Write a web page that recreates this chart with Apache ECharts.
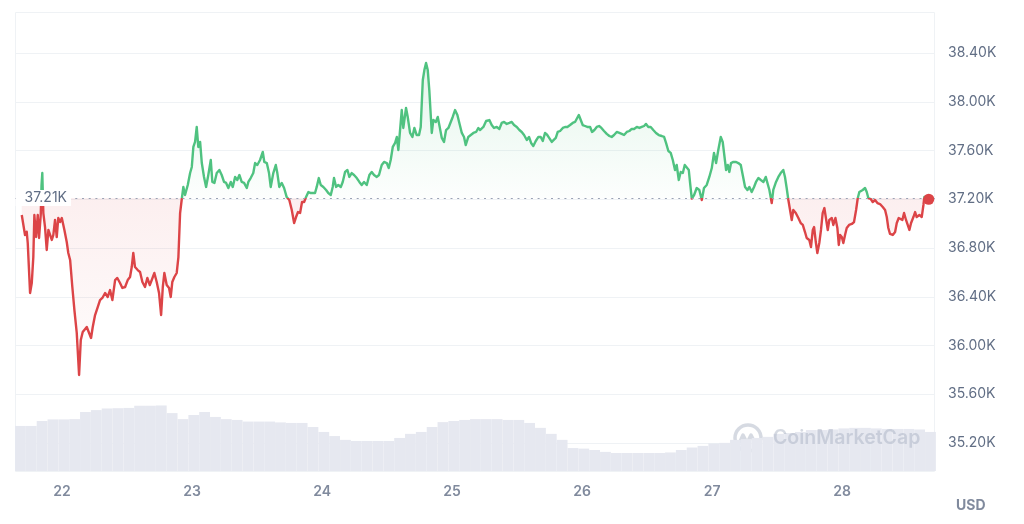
<!DOCTYPE html>
<html><head><meta charset="utf-8">
<script src="https://cdn.jsdelivr.net/npm/echarts@6/dist/echarts.min.js"></script>
<style>html,body{margin:0;padding:0;background:#fff}#c{width:1024px;height:524px}</style>
</head><body><div id="c"></div>
<script>
// ---- data ----
const dayTicks = [22, 23, 24, 25, 26, 27, 28];
const baselinePrice = 37210;
// [day of month (fractional), price USD]
const pricePoints = [
[21.690,37071],[21.715,36907],[21.728,36934],[21.736,36841],[21.754,36431],[21.767,36513],[21.779,36726],[21.787,37071],[21.800,36890],[21.813,37071],[21.823,36882],[21.836,37071],[21.842,37317],[21.848,37415],[21.856,37087],[21.869,36972],[21.882,36784],[21.895,36948],[21.908,36907],[21.921,36866],[21.933,36907],[21.946,37030],[21.959,36890],[21.971,37046],[21.985,37013],[21.998,37046],[22.018,36948],[22.036,36849],[22.048,36759],[22.062,36702],[22.079,36480],[22.095,36291],[22.113,36103],[22.131,35758],[22.144,36045],[22.159,36111],[22.171,36103],[22.190,36152],[22.208,36103],[22.223,36062],[22.236,36152],[22.254,36250],[22.275,36316],[22.292,36373],[22.310,36390],[22.331,36431],[22.351,36398],[22.369,36455],[22.387,36373],[22.408,36537],[22.425,36554],[22.446,36513],[22.464,36472],[22.485,36480],[22.505,36537],[22.523,36562],[22.536,36644],[22.548,36759],[22.561,36644],[22.582,36619],[22.600,36603],[22.618,36521],[22.638,36480],[22.656,36554],[22.675,36496],[22.690,36537],[22.710,36595],[22.728,36521],[22.746,36431],[22.762,36250],[22.775,36480],[22.787,36595],[22.805,36496],[22.823,36472],[22.836,36398],[22.848,36521],[22.864,36562],[22.882,36595],[22.895,36726],[22.908,37087],[22.921,37202],[22.933,37301],[22.946,37235],[22.967,37317],[22.985,37415],
[22.998,37465],[23.010,37629],[23.023,37670],[23.036,37793],[23.048,37629],[23.062,37670],[23.075,37497],[23.092,37383],[23.108,37301],[23.125,37399],[23.144,37522],[23.156,37342],[23.172,37334],[23.190,37415],[23.210,37440],[23.228,37399],[23.246,37342],[23.262,37334],[23.279,37292],[23.298,37342],[23.313,37301],[23.331,37383],[23.348,37358],[23.364,37399],[23.382,37342],[23.400,37334],[23.421,37292],[23.433,37342],[23.451,37374],[23.471,37415],[23.485,37497],[23.502,37481],[23.523,37522],[23.544,37588],[23.556,37506],[23.575,37497],[23.592,37415],[23.605,37301],[23.625,37415],[23.644,37481],[23.656,37415],[23.671,37301],[23.690,37334],[23.708,37292],[23.728,37218],[23.748,37194],[23.767,37112],[23.785,37005],[23.800,37054],[23.815,37095],[23.831,37087],[23.846,37177],[23.862,37177],[23.877,37218],[23.895,37259],[23.913,37251],[23.928,37259],[23.946,37251],[23.959,37301],[23.975,37374],[23.990,37317],
[24.010,37301],[24.031,37276],[24.048,37251],[24.067,37235],[24.082,37301],[24.092,37374],[24.108,37301],[24.125,37317],[24.144,37301],[24.159,37342],[24.177,37424],[24.195,37440],[24.210,37383],[24.228,37415],[24.246,37399],[24.267,37374],[24.287,37342],[24.305,37317],[24.323,37342],[24.344,37317],[24.364,37399],[24.382,37424],[24.400,37399],[24.421,37383],[24.438,37399],[24.459,37481],[24.477,37506],[24.498,37497],[24.513,37456],[24.528,37522],[24.544,37629],[24.562,37662],[24.575,37711],[24.587,37604],[24.600,37768],[24.613,37932],[24.625,37785],[24.646,37949],[24.659,37875],[24.677,37744],[24.695,37711],[24.710,37785],[24.728,37727],[24.746,37727],[24.759,37793],[24.775,38178],[24.787,38260],[24.800,38318],[24.813,38260],[24.825,38096],[24.844,37744],[24.856,37850],[24.875,37834],[24.890,37875],[24.902,37809],[24.921,37703],[24.938,37670],[24.954,37768],[24.972,37785],[24.990,37834],
[25.005,37875],[25.023,37932],[25.041,37891],[25.056,37826],[25.075,37744],[25.092,37711],[25.105,37645],[25.125,37711],[25.144,37727],[25.164,37744],[25.185,37752],[25.202,37785],[25.215,37768],[25.241,37793],[25.262,37842],[25.287,37850],[25.305,37809],[25.323,37785],[25.344,37793],[25.364,37777],[25.382,37826],[25.400,37834],[25.421,37818],[25.441,37826],[25.459,37834],[25.477,37809],[25.498,37793],[25.518,37768],[25.536,37752],[25.554,37727],[25.575,37686],[25.592,37711],[25.608,37662],[25.625,37637],[25.644,37678],[25.664,37711],[25.682,37711],[25.698,37678],[25.715,37744],[25.733,37727],[25.748,37711],[25.767,37670],[25.779,37654],[25.798,37703],[25.813,37752],[25.831,37760],[25.852,37785],[25.869,37793],[25.887,37793],[25.908,37809],[25.928,37826],[25.946,37834],[25.959,37826],[25.975,37891],[25.990,37850],
[26.005,37809],[26.023,37801],[26.041,37793],[26.062,37793],[26.077,37752],[26.095,37768],[26.113,37793],[26.131,37801],[26.149,37785],[26.169,37760],[26.190,37736],[26.210,37719],[26.228,37711],[26.246,37727],[26.267,37752],[26.287,37744],[26.305,37736],[26.323,37727],[26.344,37752],[26.364,37760],[26.382,37777],[26.400,37777],[26.421,37793],[26.441,37785],[26.459,37793],[26.477,37801],[26.492,37818],[26.510,37793],[26.528,37793],[26.548,37768],[26.569,37744],[26.590,37727],[26.613,37719],[26.631,37711],[26.646,37662],[26.664,37596],[26.682,37580],[26.698,37522],[26.715,37440],[26.728,37481],[26.744,37358],[26.759,37424],[26.775,37415],[26.790,37481],[26.805,37497],[26.821,37440],[26.831,37334],[26.844,37205],[26.862,37235],[26.882,37292],[26.902,37276],[26.921,37194],[26.938,37292],[26.959,37317],[26.979,37383],[26.998,37456],
[27.015,37580],[27.031,37497],[27.048,37604],[27.067,37711],[27.082,37670],[27.095,37662],[27.108,37440],[27.121,37481],[27.133,37424],[27.146,37497],[27.164,37506],[27.185,37506],[27.202,37497],[27.221,37481],[27.236,37399],[27.254,37301],[27.272,37276],[27.287,37301],[27.305,37259],[27.323,37301],[27.338,37342],[27.356,37374],[27.375,37358],[27.395,37342],[27.413,37383],[27.425,37374],[27.441,37276],[27.459,37169],[27.471,37276],[27.492,37342],[27.510,37383],[27.528,37415],[27.548,37440],[27.561,37383],[27.574,37292],[27.587,37194],[27.600,37112],[27.613,37030],[27.625,37112],[27.644,37087],[27.664,37046],[27.682,37005],[27.698,36989],[27.715,36931],[27.728,36882],[27.748,36866],[27.761,36808],[27.775,36948],[27.785,36972],[27.798,36849],[27.810,36759],[27.825,36841],[27.838,36948],[27.851,37087],[27.864,37128],[27.877,37112],[27.890,36948],[27.902,37030],[27.921,37046],[27.933,36989],[27.949,37046],[27.964,36964],[27.975,36825],[27.985,36907],[27.998,36890],
[28.010,36841],[28.023,36907],[28.036,36964],[28.054,36989],[28.075,36997],[28.092,37013],[28.108,37112],[28.121,37210],[28.133,37259],[28.146,37251],[28.159,37276],[28.177,37292],[28.190,37259],[28.202,37210],[28.221,37202],[28.236,37177],[28.254,37194],[28.272,37169],[28.292,37161],[28.313,37136],[28.331,37112],[28.344,37054],[28.356,36964],[28.369,36915],[28.390,36907],[28.408,36931],[28.421,37005],[28.436,37046],[28.451,37054],[28.464,37030],[28.477,37087],[28.492,37030],[28.505,36989],[28.518,36948],[28.531,37005],[28.549,37054],[28.562,37095],[28.574,37054],[28.595,37071],[28.613,37054],[28.626,37153],[28.633,37218],[28.651,37218],[28.667,37200]
];
// 2-hourly volume (billion USD), first bar centred at day 21.68
const volumeStartDay = 21.68;
const volumeStepDays = 1 / 12;
const volumes = [
16.5,16.5,18.3,18.9,18.9,19.0,21.6,22.3,22.9,23.0,
23.1,23.9,23.9,24.0,21.2,19.0,20.5,21.6,19.8,19.0,
18.7,18.1,18.1,18.1,17.8,17.6,17.6,16.1,14.3,12.8,
11.4,11.0,11.0,11.0,11.0,12.1,13.6,14.3,16.1,17.9,
18.3,18.7,19.0,19.0,19.0,18.7,18.7,17.6,15.8,13.6,
11.4,8.4,8.2,7.7,7.0,6.6,6.6,6.6,6.6,6.6,
6.8,7.7,8.6,9.2,10.1,10.3,11.4,11.7,12.1,12.5,
13.6,13.9,14.3,15.0,15.0,15.2,15.6,15.8,15.8,15.6,
15.4,15.4,15.4,15.2,14.3
];

// ---- chart ----
const GREEN = '#4fc280', RED = '#dc4447';
const FONT = 'Inter, "Noto Sans", sans-serif';
const kFmt = v => (v / 1000).toFixed(2) + 'K';
const prices = pricePoints.map(p => p[1]);
const pMax = Math.max(...prices), pMin = Math.min(...prices);
const b = (pMax - baselinePrice) / (pMax - pMin);
const last = pricePoints[pricePoints.length - 1];
const xMin = 21.638, xMax = 28.715;

const chart = echarts.init(document.getElementById('c'), null, {renderer: 'canvas'});
chart.setOption({
  animation: false,
  backgroundColor: '#fff',
  textStyle: {fontFamily: FONT},
  grid: [
    {left: 15, right: 89, top: 4.25, bottom: 32.25},
    {left: 15, right: 89, top: 400, bottom: 53}
  ],
  xAxis: [
    {gridIndex: 0, type: 'value', min: xMin, max: xMax, show: false},
    {gridIndex: 1, type: 'value', min: xMin, max: xMax,
     axisLine: {show: false}, axisTick: {show: false}, splitLine: {show: false},
     axisLabel: {customValues: dayTicks, margin: 14, color: '#808a9d', fontSize: 14,
                 fontWeight: 600, fontFamily: FONT, formatter: v => String(Math.round(v))}}
  ],
  yAxis: [
    {gridIndex: 0, type: 'value', position: 'right', min: 34800, max: 38800, interval: 400,
     axisLine: {show: false}, axisTick: {show: false},
     axisLabel: {showMinLabel: false, showMaxLabel: false, margin: 13, color: '#616e85',
                 fontSize: 14, fontFamily: FONT, formatter: kFmt},
     splitLine: {show: true, showMinLine: false, showMaxLine: false,
                 lineStyle: {color: '#eff2f5', width: 1}}},
    {gridIndex: 1, type: 'value', min: 0, max: 26, show: false}
  ],
  visualMap: {
    type: 'piecewise', show: false, seriesIndex: 0, dimension: 1,
    pieces: [
      {gt: baselinePrice, lte: 1000000, color: GREEN},
      {gt: 0, lte: baselinePrice, color: RED}
    ],
    outOfRange: {color: RED}
  },
  series: [
    {
      type: 'line', xAxisIndex: 0, yAxisIndex: 0, data: pricePoints,
      showSymbol: false, symbol: 'none', z: 3,
      lineStyle: {width: 2.4, join: 'round'},
      areaStyle: {
        origin: baselinePrice,
        color: {type: 'linear', x: 0, y: 0, x2: 0, y2: 1, colorStops: [
          {offset: 0, color: 'rgba(79,194,128,0.22)'},
          {offset: b, color: 'rgba(79,194,128,0.02)'},
          {offset: b, color: 'rgba(220,68,71,0.12)'},
          {offset: 1, color: 'rgba(220,68,71,0.02)'}
        ]}
      },
      markLine: {
        silent: true, symbol: ['none', 'none'], animation: false,
        data: [
          {yAxis: baselinePrice,
           lineStyle: {type: [2, 4.7], color: '#9aa3b5', width: 1.2},
           label: {show: true, position: 'start', distance: -56, formatter: () => kFmt(baselinePrice),
                   color: '#616e85', fontSize: 14, fontFamily: FONT,
                   backgroundColor: '#fff', padding: [1, 4, 1, 9]}},
          {yAxis: last[1],
           lineStyle: {opacity: 0, width: 0},
           label: {show: true, position: 'end', distance: 0, formatter: () => kFmt(last[1]),
                   color: '#fff', fontSize: 14, fontFamily: FONT,
                   backgroundColor: '#d9434a', padding: [4, 12, 3, 13]}}
        ]
      },
      markPoint: {
        silent: true, animation: false,
        data: [{coord: last, symbol: 'circle', symbolSize: 11,
                itemStyle: {color: RED}, label: {show: false}}]
      }
    },
    {
      type: 'bar', xAxisIndex: 1, yAxisIndex: 1, silent: true, z: 1, clip: true,
      data: volumes.map((v, i) => [volumeStartDay + i * volumeStepDays, v]),
      barWidth: 10.8, itemStyle: {color: '#e6e8f0'}
    }
  ],
  graphic: [
    {type: 'rect', z: 0, silent: true,
     shape: {x: 15.5, y: 12.5, width: 919, height: 459},
     style: {fill: 'none', stroke: '#eff2f5', lineWidth: 1}},
    {type: 'text', left: 956, top: 499, silent: true,
     style: {text: 'USD', fill: '#808a9d', font: '700 14px ' + FONT}},
    {type: 'group', silent: true, z: 10, x: 748, y: 438, children: [
      {type: 'arc', shape: {cx: 0, cy: 0, r: 13, startAngle: Math.PI * 0.25, endAngle: Math.PI * 2.05},
       style: {stroke: 'rgba(165,172,190,0.45)', lineWidth: 3.5, fill: 'none'}},
      {type: 'polyline', shape: {points: [[-9, 6], [-5, -3], [-1, 5], [3, -3], [7, 5], [12, 9]]},
       style: {stroke: 'rgba(165,172,190,0.45)', lineWidth: 3.5, fill: 'none', lineJoin: 'round'}}
    ]},
    {type: 'text', left: 773, top: 428, silent: true, z: 10,
     style: {text: 'CoinMarketCap', fill: 'rgba(165,172,190,0.45)', font: '600 19.5px ' + FONT}}
  ]
});
</script>
</body></html>
